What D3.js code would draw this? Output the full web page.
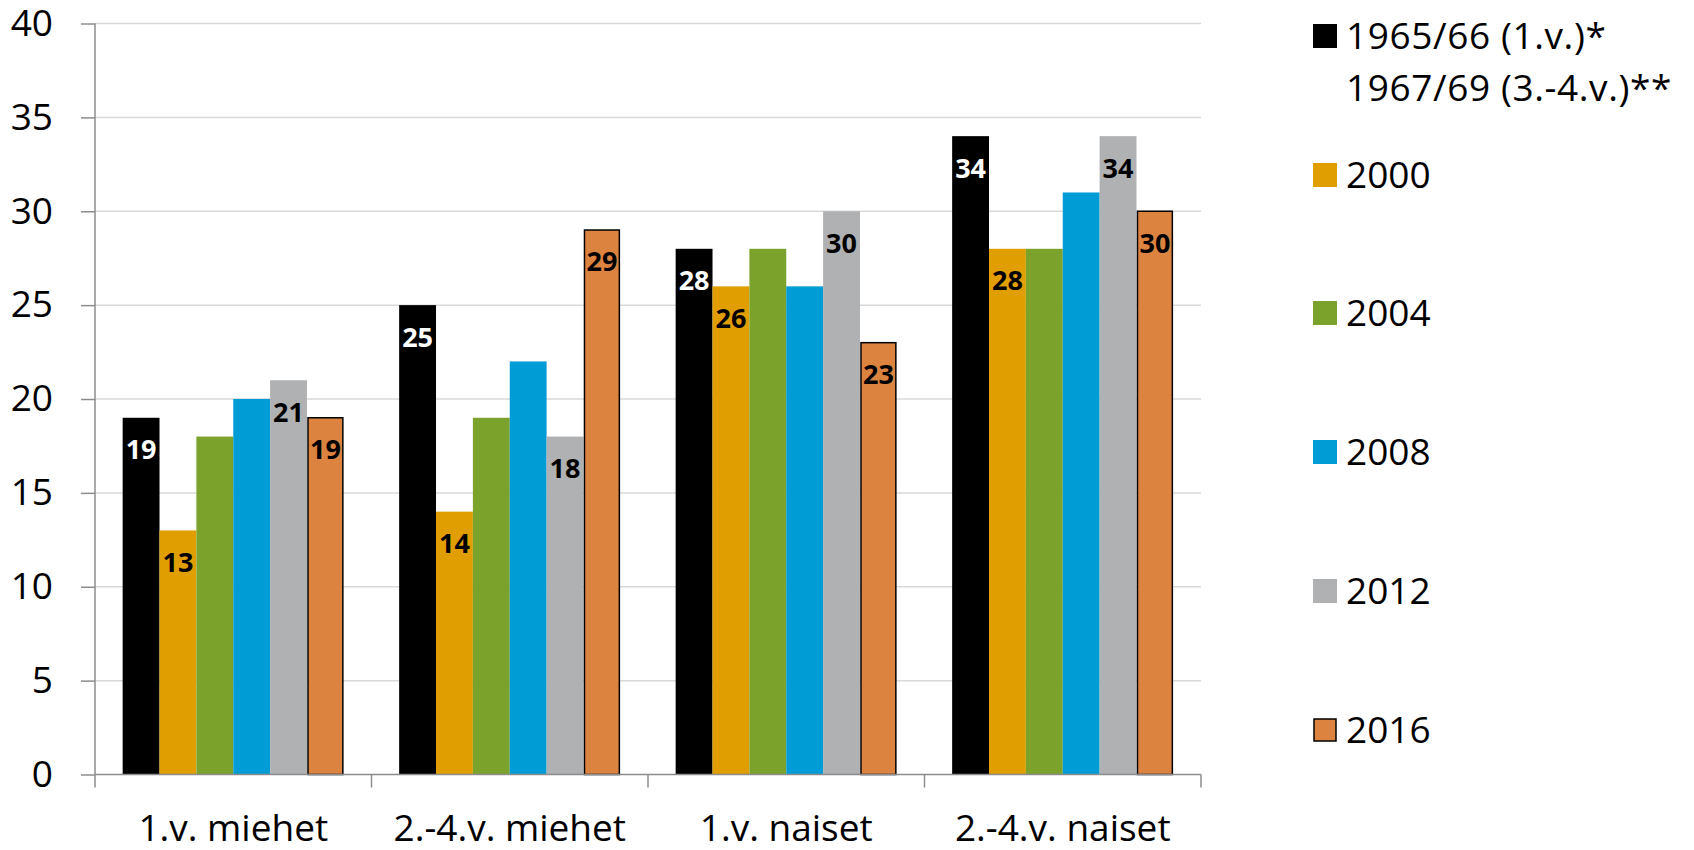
<!DOCTYPE html>
<html>
<head>
<meta charset="utf-8">
<script src="https://cdn.jsdelivr.net/npm/d3@7"></script>
<style>
  body { margin: 0; background: #fff; }
  svg text { font-family: "Open Sans", Lato, sans-serif; }
</style>
</head>
<body>
<svg id="chart" width="1694" height="850"></svg>
<script>
const categories = ["1.v. miehet", "2.-4.v. miehet", "1.v. naiset", "2.-4.v. naiset"];
const seriesKeys = ["s1965", "s2000", "s2004", "s2008", "s2012", "s2016"];
const seriesLabels = [["1965/66 (1.v.)*", "1967/69 (3.-4.v.)**"], ["2000"], ["2004"], ["2008"], ["2012"], ["2016"]];
const values1965 = [19, 25, 28, 34];
const values2000 = [13, 14, 26, 28];
const values2004 = [18, 19, 28, 28];
const values2008 = [20, 22, 26, 31];
const values2012 = [21, 18, 30, 34];
const values2016 = [19, 29, 23, 30];
const labelledSeries = ["s1965", "s2000", "s2012", "s2016"];
const yTicks = [0, 5, 10, 15, 20, 25, 30, 35, 40];

const colors = {
    s1965: "#000000", s2000: "#e09e00", s2004: "#7ba32c",
    s2008: "#009cd6", s2012: "#b0b1b3", s2016: "#dc8340"
};

const seriesValues = [values1965, values2000, values2004, values2008, values2012, values2016];
const rows = categories.map((c, i) => {
    const r = { cat: c };
    seriesKeys.forEach((k, j) => r[k] = seriesValues[j][i]);
    return r;
});

const svg = d3.select("#chart");
const plotLeft = 95, plotRight = 1201, plotTop = 23.5, plotBottom = 774.5;

const y = d3.scaleLinear().domain([0, 40]).range([plotBottom, plotTop]);
const x0 = d3.scaleBand().domain(categories).range([plotLeft, plotRight]).padding(0);
const x1 = d3.scaleBand().domain(seriesKeys).range([0, x0.bandwidth()]).paddingInner(0).paddingOuter(0.75);

// gridlines
svg.append("g").selectAll("line").data(yTicks.filter(d => d > 0)).join("line")
    .attr("x1", plotLeft).attr("x2", plotRight)
    .attr("y1", d => y(d)).attr("y2", d => y(d))
    .attr("stroke", "#d9d9d9").attr("stroke-width", 1.5);

// bars
const groups = svg.append("g").selectAll("g").data(rows).join("g")
    .attr("transform", d => `translate(${x0(d.cat)},0)`);

groups.selectAll("rect").data(d => seriesKeys.map(k => ({ key: k, value: d[k] }))).join("rect")
    .attr("x", d => x1(d.key) + (d.key === "s2016" ? 1 : 0))
    .attr("width", d => x1.bandwidth() - (d.key === "s2016" ? 2 : 0))
    .attr("y", d => y(d.value))
    .attr("height", d => y(0) - y(d.value))
    .attr("fill", d => colors[d.key])
    .attr("stroke", d => d.key === "s2016" ? "#000" : "none")
    .attr("stroke-width", 1.5);

groups.selectAll("text").data(d => seriesKeys.filter(k => labelledSeries.includes(k)).map(k => ({ key: k, value: d[k] }))).join("text")
    .attr("x", d => x1(d.key) + x1.bandwidth() / 2)
    .attr("y", d => y(d.value) + 32)
    .attr("dy", "0.35em")
    .attr("text-anchor", "middle")
    .attr("font-size", 27)
    .attr("font-weight", "bold")
    .attr("fill", d => d.key === "s1965" ? "#fff" : "#000")
    .text(d => d.value);

// y axis
const yAxis = svg.append("g").attr("transform", `translate(${plotLeft},0)`)
    .call(d3.axisLeft(y).tickValues(yTicks).tickSize(14).tickPadding(28));
yAxis.select(".domain").attr("stroke", "#8c8c8c").attr("stroke-width", 1.5).attr("d", `M0,${plotTop}V${plotBottom}`);
yAxis.selectAll(".tick line").attr("stroke", "#8c8c8c").attr("stroke-width", 1.5);
yAxis.selectAll(".tick text").attr("font-size", 37).attr("fill", "#000").attr("font-family", "Open Sans");

// x axis
const xAxis = svg.append("g").attr("transform", `translate(0,${plotBottom})`);
xAxis.append("line").attr("x1", plotLeft).attr("x2", plotRight).attr("stroke", "#8c8c8c").attr("stroke-width", 1.5);
xAxis.selectAll(".xt").data(categories.map(c => x0(c)).concat([plotRight])).join("line")
    .attr("class", "xt")
    .attr("x1", d => d).attr("x2", d => d).attr("y1", 0).attr("y2", 13)
    .attr("stroke", "#8c8c8c").attr("stroke-width", 1.5);
xAxis.selectAll("text").data(categories).join("text")
    .attr("x", d => x0(d) + x0.bandwidth() / 2)
    .attr("y", 66)
    .attr("text-anchor", "middle")
    .attr("font-size", 37)
    .attr("fill", "#000")
    .text(d => d);

// legend
const legendY = [36, 175, 313, 452, 591, 730];
const legend = svg.append("g").selectAll("g").data(seriesKeys).join("g")
    .attr("transform", (d, i) => `translate(1313,${legendY[i]})`);
legend.append("rect")
    .attr("x", d => d === "s2016" ? 1 : 0).attr("y", d => d === "s2016" ? -11 : -12)
    .attr("width", d => d === "s2016" ? 22 : 24).attr("height", d => d === "s2016" ? 22 : 24)
    .attr("fill", d => colors[d])
    .attr("stroke", d => d === "s2016" ? "#000" : "none").attr("stroke-width", 1.5);
legend.each(function(d, i) {
    seriesLabels[i].forEach((t, j) => {
        d3.select(this).append("text")
            .attr("x", 33).attr("y", 13 + j * 52)
            .attr("font-size", 37).attr("letter-spacing", i === 0 ? 0.6 : 0).attr("fill", "#000")
            .text(t);
    });
});
</script>
</body>
</html>
